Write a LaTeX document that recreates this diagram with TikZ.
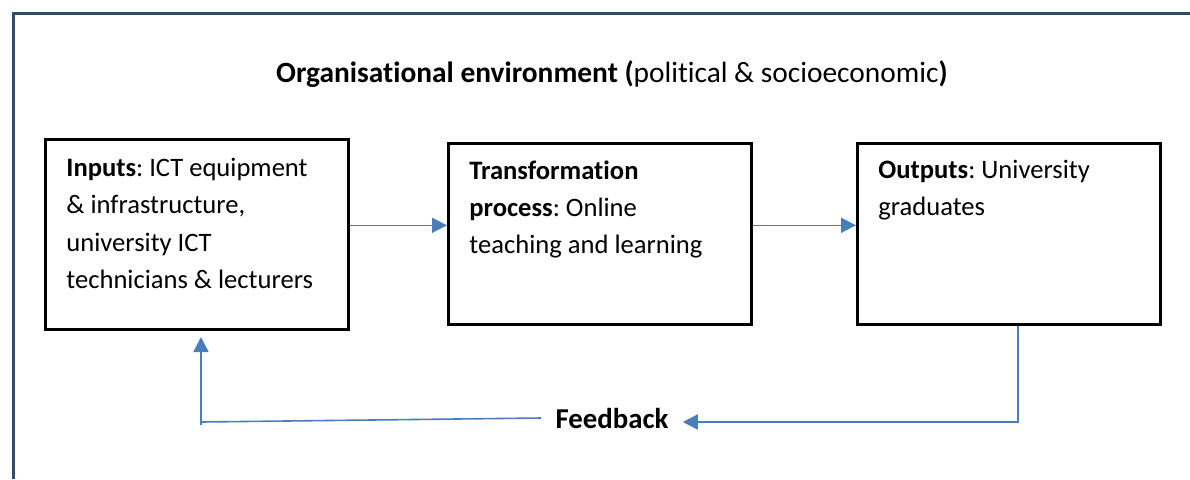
\documentclass[tikz,border=0pt]{standalone}
\usepackage{fontspec}
\setmainfont{Carlito}[Ligatures=NoCommon]
\usetikzlibrary{arrows.meta,positioning}
\frenchspacing

\definecolor{framecol}{HTML}{2E4C72}
\definecolor{flowcol}{HTML}{4A7EBB}

\tikzset{
  blockbox/.style={draw, line width=1.3pt, minimum width=151.5pt, inner sep=0pt, anchor=north west},
  blocktext/.style={align=left, inner sep=0pt, font=\fontsize{13.3}{18.6}\selectfont},
  flow/.style={draw=flowcol, line width=0.8pt, -{Triangle[length=7.5pt,width=7.5pt]}},
  fbline/.style={draw=flowcol, line width=0.8pt}
}

\begin{document}
\begin{tikzpicture}[x=0.5pt,y=-0.5pt]
\useasboundingbox (0,0) rectangle (1190,479);
% environment frame (runs off the page to the right and bottom)
\draw[framecol, line width=1.5pt] (1190,13) -- (13,13) -- (13,479);
\node[font=\fontsize{14.7}{17}\selectfont] (envtitle) at (612,74)
  {\textbf{Organisational environment (}political \& socioeconomic\textbf{)}};

% the three blocks
\node[blockbox, minimum height=95pt] (inputs) at (44,138) {};
\node[blockbox, minimum height=90.5pt] (transform) at (447,142) {};
\node[blockbox, minimum height=90.5pt] (outputs) at (856,142) {};

\node[blocktext, below right=10pt and 11pt of inputs.north west] (inputstext)
  {\textbf{Inputs}: ICT equipment\\ \& infrastructure,\\ university ICT\\ technicians \& lecturers};
\node[blocktext, below right=9pt and 11pt of transform.north west] (transformtext)
  {\textbf{Transformation}\\ \textbf{process}: Online\\ teaching and learning};
\node[blocktext, below right=9pt and 11pt of outputs.north west] (outputstext)
  {\textbf{Outputs}: University\\ graduates};

\draw[flow] ([yshift=4.5pt]inputs.east) -- ([yshift=4.25pt]transform.west);
\draw[flow] ([yshift=4.25pt]transform.east) -- ([yshift=4.25pt]outputs.west);

% feedback loop
\node[font=\fontsize{14.4}{17}\selectfont\bfseries, inner xsep=7pt] (feedback) at (612,418) {Feedback};
\coordinate (fbcorner) at (201,422);
\coordinate (fbtip) at (201,337);
\draw[flow] ([xshift=4.5pt]outputs.south) |- ([yshift=-2pt]feedback.east);
\draw[fbline] (feedback.west) -- (fbcorner);
\draw[flow] ([yshift=-1.5pt]fbcorner) -- (fbtip);
\end{tikzpicture}
\end{document}
